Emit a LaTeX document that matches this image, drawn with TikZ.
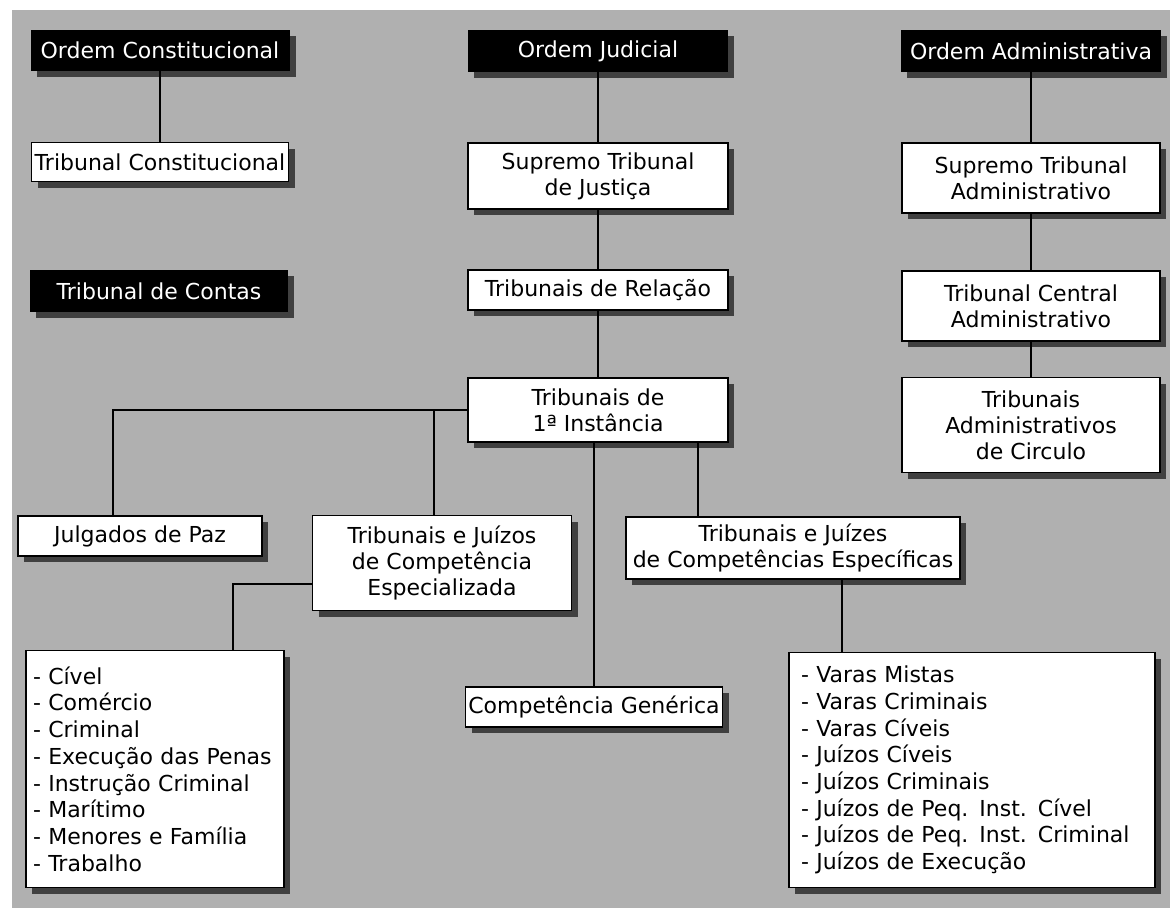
\documentclass[tikz,border=0pt]{standalone}
\usepackage{fontspec}
\setmainfont{DejaVu Sans}
\usetikzlibrary{shadows}

\begin{document}
\begin{tikzpicture}[x=1pt,y=-1pt,
  font=\fontsize{22}{26}\selectfont,
  sombra/.style={drop shadow={shadow xshift=6pt,shadow yshift=-6pt,fill=black!75,opacity=1}},
  ordem/.style={fill=black,text=white,inner sep=0pt,sombra},
  caixa/.style={draw=black,line width=1.5pt,fill=white,inner sep=0pt,align=center,sombra},
  lista/.style={caixa,align=left,font=\fontsize{22}{26.7}\selectfont},
  liga/.style={line width=2pt}]
\useasboundingbox (0,0) rectangle (1170,908);
\fill[white] (0,0) rectangle (1170,908);
\fill[black!31] (12,10) rectangle (1170,908);

%%% ordens
\node[ordem, minimum width=259pt, minimum height=41pt] (oc) at (160,50) {Ordem Constitucional};
\node[ordem, minimum width=260pt, minimum height=42pt] (oj) at (598,51) {Ordem Judicial};
\node[ordem, minimum width=260pt, minimum height=42pt] (oa) at (1031,51) {Ordem Administrativa};
\node[ordem, minimum width=258pt, minimum height=42pt] (tco) at (159,291) {Tribunal de Contas};

%%% tribunais superiores
\node[caixa, minimum width=257pt, minimum height=39pt] (tc) at (160,162) {Tribunal Constitucional};
\node[caixa, minimum width=260pt, minimum height=66pt] (stj) at (598,176) {Supremo Tribunal\\de Justiça};
\node[caixa, minimum width=260pt, minimum height=40pt] (tr) at (598,290) {Tribunais de Relação};
\node[caixa, minimum width=260pt, minimum height=64pt] (t1) at (598,410) {Tribunais de\\1ª Instância};
\node[caixa, minimum width=258pt, minimum height=70pt] (sta) at (1031,178) {Supremo Tribunal\\Administrativo};
\node[caixa, minimum width=258pt, minimum height=70pt] (tca) at (1031,306) {Tribunal Central\\Administrativo};
\node[caixa, minimum width=258pt, minimum height=95pt] (tac) at (1031,425) {Tribunais\\Administrativos\\de Circulo};

%%% primeira instancia
\node[caixa, minimum width=244pt, minimum height=40pt] (jp) at (140,536) {Julgados de Paz};
\node[caixa, minimum width=259pt, minimum height=95pt] (tje) at (442,563) {Tribunais e Juízos\\de Competência\\Especializada};
\node[caixa, minimum width=334pt, minimum height=62pt] (tjce) at (793,548) {Tribunais e Juízes\\de Competências Específicas};
\node[caixa, minimum width=257pt, minimum height=40pt] (cg) at (594,707) {Competência Genérica};

\node[lista, inner xsep=7pt, text width=244pt, minimum height=237pt] (le) at (155,769) {- Cível\\- Comércio\\- Criminal\\- Execução das Penas\\- Instrução Criminal\\- Marítimo\\- Menores e Família\\- Trabalho};
\node[lista, inner xsep=12pt, text width=342pt, minimum height=235pt] (ld) at (972,770) {- Varas Mistas\\- Varas Criminais\\- Varas Cíveis\\- Juízos Cíveis\\- Juízos Criminais\\- Juízos de Peq. Inst. Cível\\- Juízos de Peq. Inst. Criminal\\- Juízos de Execução};

%%% ligacoes
\foreach \a/\b in {oc/tc,oj/stj,stj/tr,tr/t1,oa/sta,sta/tca,tca/tac}
\draw[liga] (\a) -- (\b);

\draw[liga] (t1.west) -| ([xshift=-27pt]jp.north);
\draw[liga] ([xshift=-8pt]tje.north) |- (t1.west);
\draw[liga] (t1.south -| cg.north) -- (cg.north);
\draw[liga] ([xshift=100pt]t1.south) -- ([xshift=-95pt]tjce.north);
\draw[liga] ([yshift=-21pt]tje.west) -| ([xshift=78pt]le.north);
\draw[liga] ([xshift=49pt]tjce.south) -- ([xshift=-130pt]ld.north);

\end{tikzpicture}
\end{document}
